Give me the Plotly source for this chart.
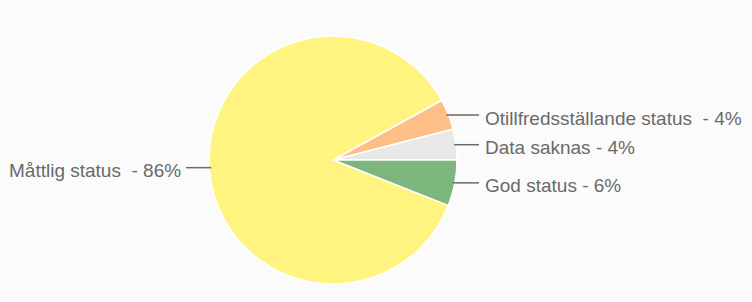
import math
import plotly.graph_objects as go

# Data
labels = ["Otillfredsställande status\u00a0", "Data saknas", "God status", "Måttlig status\u00a0"]
values = [4, 4, 6, 86]
colors = ["#FDBF86", "#E8E8E8", "#7DB67D", "#FFF47F"]

# Layout constants (pixels)
W, H = 752, 302
CX, CY, R = 333, 160, 124
LABEL_GAP = 26
TEXT_COLOR = "#6a6a6a"
LINE_COLOR = "#6a6a6a"
BG = "#FBFBFB"


def px(x):
    return x / W


def py(y):
    return 1 - y / H


total = sum(values)
start_deg = (values[0] + values[1]) / total * 360  # angle (ccw from 3 o'clock) where first slice starts
rotation = 90 - start_deg

fig = go.Figure()
fig.add_trace(go.Pie(
    labels=labels,
    values=values,
    sort=False,
    direction="clockwise",
    rotation=rotation,
    marker=dict(colors=colors, line=dict(color="white", width=1.5)),
    textinfo="none",
    hoverinfo="label+percent",
    showlegend=False,
    domain=dict(x=[px(CX - R), px(CX + R)], y=[py(CY + R), py(CY - R)]),
))

annotations = []
shapes = []
angle = start_deg
for lab, v in zip(labels, values):
    span = v / total * 360
    mid = math.radians(angle - span / 2)
    angle -= span
    ex = CX + (R - 2) * math.cos(mid)
    ey = CY - (R - 2) * math.sin(mid)
    pct = round(v / total * 100)
    text = f"{lab} - {pct}%"
    right = math.cos(mid) >= 0
    if right:
        lx = CX + R + LABEL_GAP
        lend = lx - 4
        anchor = "left"
    else:
        lx = CX - R - LABEL_GAP
        lend = lx + 3
        anchor = "right"
    ly = ey
    shapes.append(dict(type="line", xref="paper", yref="paper",
                       x0=px(ex), y0=py(ey), x1=px(lend), y1=py(ly),
                       line=dict(color=LINE_COLOR, width=1.5)))
    annotations.append(dict(x=px(lx), y=py(ly + 3), xref="paper", yref="paper",
                            text=text, showarrow=False, xanchor=anchor, yanchor="middle",
                            font=dict(family="Liberation Sans, Arial, sans-serif", size=19, color=TEXT_COLOR)))

fig.update_layout(
    width=W, height=H,
    margin=dict(l=0, r=0, t=0, b=0),
    paper_bgcolor=BG, plot_bgcolor=BG,
    annotations=annotations, shapes=shapes,
)

fig.write_html("out.html", config={"displayModeBar": False},
               post_script="document.body.style.margin='0';document.body.style.background='%s';" % BG)
